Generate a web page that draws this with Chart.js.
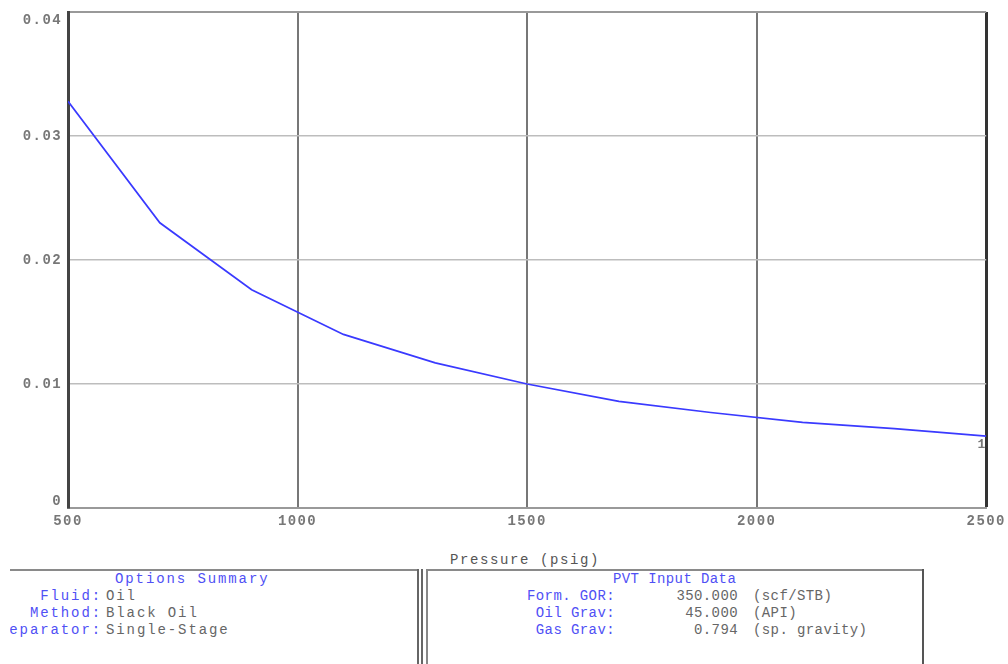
<!DOCTYPE html>
<html>
<head>
<meta charset="utf-8">
<script src="https://cdn.jsdelivr.net/npm/chart.js@4.4.1/dist/chart.umd.min.js"></script>
<style>
  html, body { margin: 0; padding: 0; background: #fff; }
  #wrap { position: relative; width: 1008px; height: 664px; overflow: hidden; background: #fff;
          font-family: "Liberation Mono", "DejaVu Sans Mono", monospace; }
  #c { position: absolute; left: 0; top: 0; }
  .t { position: absolute; font-size: 14px; line-height: 14px; white-space: pre; }
  .blue { color: #5050f5; }
  .gray { color: #666; }
  .hl { position: absolute; height: 0; border-top: 2px solid #8a8a8a; }
  .vl { position: absolute; width: 0; border-left: 2px solid #666; }
  #leftClip { position: absolute; left: 10px; top: 560px; width: 420px; height: 104px; overflow: hidden; }
</style>
</head>
<body>
<div id="wrap">
  <canvas id="c" width="1008" height="540"></canvas>
  <div id="panels"><div id="leftClip"></div></div>
</div>
<script>
// ---- data ----
const pressures = [500, 700, 900, 1100, 1300, 1500, 1700, 1900, 2100, 2300, 2500];
const curveValues = [0.0328, 0.0230, 0.0176, 0.0140, 0.0117, 0.0100, 0.0086, 0.0077, 0.0069, 0.0064, 0.0058];
const xTickValues = [500, 1000, 1500, 2000, 2500];
const yTickValues = [0, 0.01, 0.02, 0.03, 0.04];
const yTickLabels = ['0', '0.01', '0.02', '0.03', '0.04'];
const xAxisTitle = 'Pressure (psig)';
const curveLabel = '1';

const optionsTitle = 'Options Summary';
const optionsLabels = ['Fluid:', 'Method:', 'Separator:'];
const optionsValues = ['Oil', 'Black Oil', 'Single-Stage'];

const pvtTitle = 'PVT Input Data';
const pvtLabels = ['Form. GOR:', 'Oil Grav:', 'Gas Grav:'];
const pvtValues = ['350.000', '45.000', '0.794'];
const pvtUnits = ['(scf/STB)', '(API)', '(sp. gravity)'];

// ---- panels (HTML text) ----
const P = document.getElementById('panels');
const LC = document.getElementById('leftClip');
function el(cls, style, text, parent) {
  const d = document.createElement('div');
  d.className = cls;
  Object.assign(d.style, style);
  if (text !== undefined) d.textContent = text;
  (parent || P).appendChild(d);
  return d;
}
const W = 1008;
const rowY = [596, 613, 630];
const titleY = 579;

// axis title
el('t gray', { left: '450px', top: (560 - 7) + 'px', letterSpacing: '1.6px', color: '#555' }, xAxisTitle);

// left panel borders
el('hl', { left: '10px', top: '569px', width: '409px' });
el('vl', { left: '417px', top: '569px', height: '100px' });
el('vl', { left: '421px', top: '569px', height: '100px' });
// right panel borders
el('hl', { left: '426px', top: '569px', width: '498px' });
el('vl', { left: '426px', top: '569px', height: '100px', borderLeftColor: '#888' });
el('vl', { left: '922px', top: '569px', height: '100px', borderLeftColor: '#555' });

// left panel text (wider glyphs), clipped at the panel's left edge (x = 10)
const LS = '1.9px';
const LX = 10, LYo = 560;
el('t blue', { left: (115 - LX) + 'px', top: (titleY - 7 - LYo) + 'px', letterSpacing: LS }, optionsTitle, LC);
optionsLabels.forEach((lab, i) => {
  el('t blue', { right: (420 - (102 - LX)) + 'px', top: (rowY[i] - 7 - LYo) + 'px', letterSpacing: LS, textAlign: 'right' }, lab, LC);
  el('t gray', { left: (106 - LX) + 'px', top: (rowY[i] - 7 - LYo) + 'px', letterSpacing: LS }, optionsValues[i], LC);
});

// right panel text
const RS = '0.4px';
el('t blue', { left: '613px', top: (titleY - 7) + 'px', letterSpacing: RS }, pvtTitle);
pvtLabels.forEach((lab, i) => {
  el('t blue', { right: (W - 615) + 'px', top: (rowY[i] - 7) + 'px', letterSpacing: RS, textAlign: 'right' }, lab);
  el('t gray', { right: (W - 738) + 'px', top: (rowY[i] - 7) + 'px', letterSpacing: RS, textAlign: 'right' }, pvtValues[i]);
  el('t gray', { left: '753px', top: (rowY[i] - 7) + 'px', letterSpacing: RS }, pvtUnits[i]);
});

// ---- chart ----
const tickFont = { family: '"Liberation Mono", monospace', size: 14, weight: 'bold' };

const labelsPlugin = {
  id: 'labelsPlugin',
  beforeDraw(chart) {
    try { chart.ctx.letterSpacing = '1.4px'; } catch (e) {}
  },
  afterDraw(chart) {
    const ctx = chart.ctx;
    const ys = chart.scales.y;
    const area = chart.chartArea;
    ctx.save();
    ctx.font = 'bold 14px "Liberation Mono", monospace';
    ctx.fillStyle = '#777';
    ctx.textAlign = 'right';
    ctx.textBaseline = 'middle';
    yTickValues.forEach((v, i) => {
      let py = ys.getPixelForValue(v);
      py = Math.min(Math.max(py, area.top + 8), area.bottom - 7);
      ctx.fillText(yTickLabels[i], ys.right - 6, py);
    });
    ctx.restore();
  },
  afterDatasetsDraw(chart) {
    const ctx = chart.ctx;
    const meta = chart.getDatasetMeta(0);
    const last = meta.data[meta.data.length - 1];
    ctx.save();
    try { ctx.letterSpacing = '0px'; } catch (e) {}
    ctx.font = 'bold 13px "Liberation Mono", monospace';
    ctx.fillStyle = '#777';
    ctx.textAlign = 'right';
    ctx.textBaseline = 'middle';
    ctx.fillText(curveLabel, last.x - 1, last.y + 9);
    ctx.restore();
  }
};

new Chart(document.getElementById('c'), {
  type: 'line',
  data: {
    datasets: [{
      data: pressures.map((p, i) => ({ x: p, y: curveValues[i] })),
      borderColor: '#3a3aff',
      borderWidth: 1.7,
      pointRadius: 0,
      tension: 0,
      fill: false
    }]
  },
  options: {
    responsive: false,
    animation: false,
    events: [],
    layout: { padding: { top: 12, right: 21, bottom: 0, left: 0 } },
    plugins: { legend: { display: false }, tooltip: { enabled: false } },
    scales: {
      x: {
        type: 'linear',
        min: 500, max: 2500,
        afterBuildTicks: (s) => { s.ticks = xTickValues.map(v => ({ value: v })); },
        afterFit: (s) => { s.height = 32; },
        ticks: {
          color: '#777', font: tickFont, padding: 5, maxRotation: 0, autoSkip: false,
          callback: (v) => String(v)
        },
        grid: {
          drawTicks: false,
          color: (c) => c.tick && c.tick.value === 2500 ? '#333' : '#777',
          lineWidth: (c) => c.tick && c.tick.value === 2500 ? 3 : 2
        },
        border: { color: '#999', width: 2 }
      },
      y: {
        min: 0, max: 0.04,
        afterBuildTicks: (s) => { s.ticks = yTickValues.map(v => ({ value: v })); },
        afterFit: (s) => { s.width = 68; },
        ticks: { display: false },
        grid: {
          drawTicks: false,
          color: (c) => c.tick && Math.abs(c.tick.value - 0.04) < 1e-9 ? '#999' : '#bdbdbd',
          lineWidth: (c) => c.tick && Math.abs(c.tick.value - 0.04) < 1e-9 ? 2 : 1.5
        },
        border: { color: '#444', width: 3 }
      }
    }
  },
  plugins: [labelsPlugin]
});
</script>
</body>
</html>
